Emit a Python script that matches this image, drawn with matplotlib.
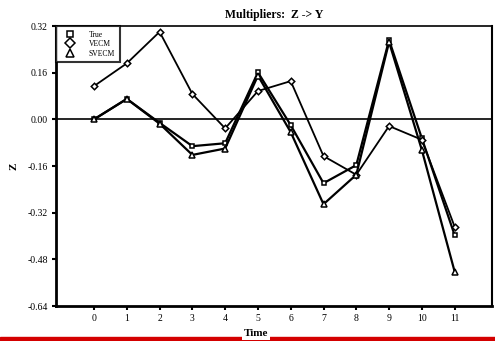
import numpy as np
import matplotlib
matplotlib.use("Agg")
import matplotlib.pyplot as plt
from matplotlib.patches import Rectangle

plt.rcParams['font.family'] = ['Liberation Serif', 'DejaVu Serif']

# multipliers Z -> Y
periods = [0, 1, 2, 3, 4, 5, 6, 7, 8, 9, 10, 11]
true_vals = [0.00, 0.07, -0.012, -0.092, -0.082, 0.161, -0.02, -0.219, -0.157, 0.272, -0.065, -0.397]
vecm_vals = [0.114, 0.192, 0.30, 0.087, -0.031, 0.097, 0.131, -0.126, -0.19, -0.023, -0.07, -0.368]
svecm_vals = [0.00, 0.07, -0.015, -0.122, -0.10, 0.15, -0.044, -0.291, -0.19, 0.265, -0.105, -0.522]
y_ticks = [0.32, 0.16, 0.00, -0.16, -0.32, -0.48, -0.64]

fig = plt.figure(figsize=(4.95, 3.41), dpi=100)
ax = fig.add_axes([56/495, 1 - 306/341, 436/495, 280/341])

ax.axhline(0, color='black', lw=1.2, zorder=1)

ax.plot(periods, true_vals, color='black', lw=1.6, marker='s', ms=3.3,
        mfc='white', mec='black', mew=1.1, label='True', zorder=3)
ax.plot(periods, vecm_vals, color='black', lw=1.3, marker='D', ms=3.3,
        mfc='white', mec='black', mew=1.1, label='VECM', zorder=3)
ax.plot(periods, svecm_vals, color='black', lw=1.6, marker='^', ms=3.8,
        mfc='white', mec='black', mew=1.1, label='SVECM', zorder=3)

ax.set_xlim(-1.16, 12.14)
ax.set_ylim(-0.64, 0.32)
ax.set_xticks(periods)
ax.set_yticks(y_ticks)
ax.set_yticklabels(['%.2f' % v for v in y_ticks])
ax.tick_params(axis='both', labelsize=7, length=3, width=1.5, direction='out', pad=3)

ax.spines['left'].set_linewidth(2)
ax.spines['bottom'].set_linewidth(2)
ax.spines['top'].set_linewidth(1.2)
ax.spines['right'].set_linewidth(1.5)

ax.set_title('Multipliers:  Z -> Y', fontsize=8.5, fontweight='bold', pad=6)
ax.set_ylabel('Z', fontsize=8, fontweight='bold', labelpad=6)

leg = ax.legend(loc='upper left', fontsize=5.5, frameon=True, fancybox=False,
                borderaxespad=0, handlelength=2.4, handletextpad=1.3,
                labelspacing=0.2, borderpad=0.6, markerscale=1.4)
leg.get_frame().set_edgecolor('black')
leg.get_frame().set_linewidth(1.5)
for h in leg.legend_handles:
    h.set_linestyle('none')

# red strip along the bottom edge with the axis title sitting on it
fig.patches.append(Rectangle((0, 0), 1, 4.5/341, transform=fig.transFigure,
                             color='#d40000', zorder=0))
fig.text(256/495, 1 - 333/341, 'Time', fontsize=8, fontweight='bold',
         ha='center', va='center',
         bbox=dict(facecolor='white', edgecolor='none', pad=1.5))

fig.savefig('out.png', dpi=100)
